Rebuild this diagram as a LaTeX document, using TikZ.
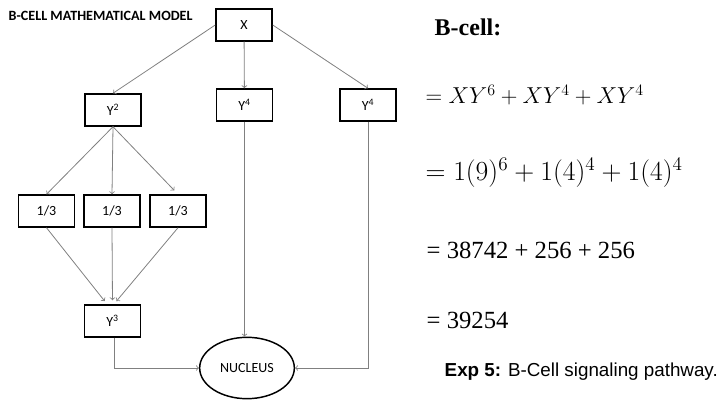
\documentclass[tikz,border=0pt]{standalone}
\usepackage{fontspec}
\setmainfont{Liberation Serif}
\newfontfamily\calibri{Carlito}
\newfontfamily\arial{Liberation Sans}
\usetikzlibrary{arrows,shapes,positioning}
\definecolor{bcgray}{RGB}{128,128,128}
\tikzstyle{box} = [rectangle, minimum width=42pt, minimum height=24pt, text centered, draw=black, line width=1.1pt, font=\calibri\fontsize{10.5}{12}\selectfont]
\tikzstyle{arrow} = [->,>=to,color=bcgray,line width=0.6pt]

\begin{document}
\begin{tikzpicture}[x=0.75pt,y=-0.75pt]
\useasboundingbox (0,0) rectangle (718,403);
% Title
\node[font=\calibri\bfseries\fontsize{10.6}{12}\selectfont, anchor=west] (title) at (4,16) {B-CELL MATHEMATICAL MODEL};

% Boxes
\node[box] (x) at (244,25) {X};
\node[box] (y2) at (113,110) {Y\textsuperscript{2}};
\node[box] (y4a) at (244.5,105) {Y\textsuperscript{4}};
\node[box] (y4b) at (368,105) {Y\textsuperscript{4}};
\node[box] (t1) at (46.5,211) {1/3};
\node[box] (t2) at (112,211) {1/3};
\node[box] (t3) at (178,211) {1/3};
\node[box] (y3) at (112.5,321) {Y\textsuperscript{3}};
\node[ellipse, draw=black, line width=1.1pt, minimum width=71pt, minimum height=46pt, font=\calibri\fontsize{10.5}{12}\selectfont] (nuc) at (247,368) {NUCLEUS};

% Arrows
\draw[arrow] (x.west) -- (y2.north);
\draw[arrow] (x) -- (y4a);
\draw[arrow] (x.east) -- (y4b.north);
\draw[arrow] (y2.south) -- (t1.north);
\draw[arrow] (y2.south) -- (t2.north);
\draw[arrow, shorten >=4pt] (y2.south) -- (t3.north);
\draw[arrow, shorten >=3pt] (t1.south) -- ([xshift=-4pt]y3.north);
\draw[arrow, shorten >=3pt] (t2.south) -- (y3.north);
\draw[arrow, shorten >=3pt] (t3.south) -- ([xshift=1pt]y3.north);
\draw[arrow] ([xshift=1.5pt]y3.south) |- (nuc.west);
\draw[arrow] (y4a.south) -- (y4a.south |- nuc.north);
\draw[arrow] (y4b.south) |- (nuc.east);

% Calculation
\node[anchor=west, font=\bfseries\fontsize{18}{20}\selectfont] (head) at (430,27) {B-cell:};
\node[anchor=west, font=\fontsize{17.8}{19}\selectfont] (eq1) at (421,95) {$=XY^6+XY^4+XY^4$};
\node[anchor=west, font=\fontsize{20.5}{22}\selectfont] (eq2) at (421,173) {$=1(9)^6+1(4)^4+1(4)^4$};
\node[anchor=west, font=\fontsize{18.5}{20}\selectfont] (eq3) at (422,250) {= 38742 + 256 + 256};
\node[anchor=west, font=\fontsize{18.5}{20}\selectfont] (eq4) at (422,320) {= 39254};
\node[anchor=west, font=\arial\fontsize{14.1}{16}\selectfont] (caption) at (440,372) {\textbf{Exp 5:} B-Cell signaling pathway.};
\end{tikzpicture}
\end{document}
